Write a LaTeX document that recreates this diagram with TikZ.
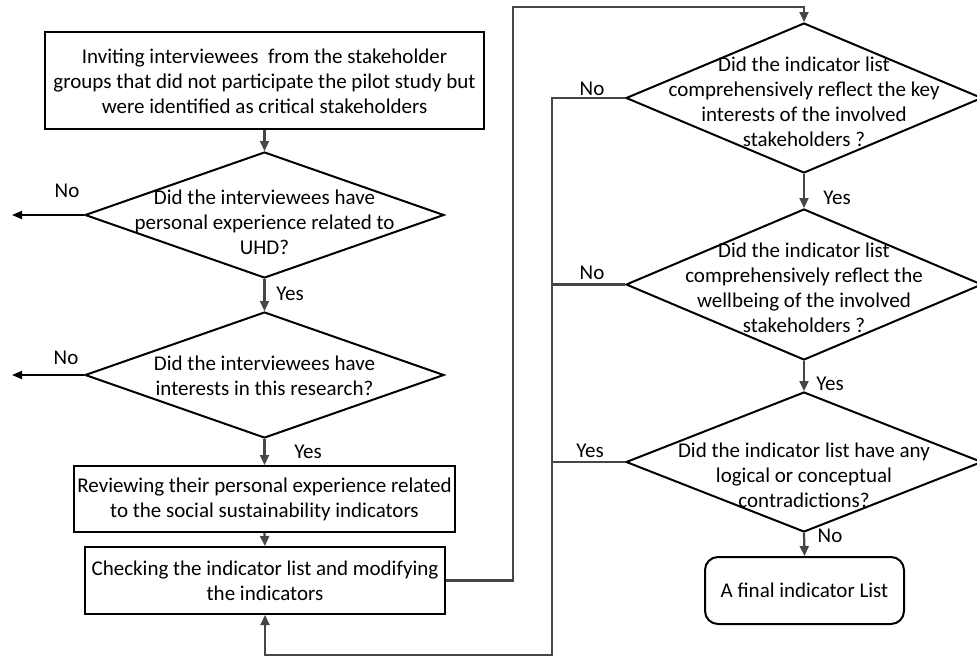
\documentclass[tikz,border=0pt]{standalone}
\usepackage{fontspec}
\setmainfont{Carlito}
\usetikzlibrary{shapes.geometric,arrows.meta}
\definecolor{linegray}{RGB}{70,70,70}
\begin{document}
\begin{tikzpicture}[x=1pt,y=-1pt,
  every node/.style={font=\fontsize{21}{25}\selectfont},
  procbox/.style={draw=black,line width=2pt,inner sep=0pt},
  endbox/.style={draw=black,line width=2pt,rounded corners=13pt,inner sep=0pt},
  decision/.style={draw=black,line width=2pt,diamond,inner sep=0pt},
  txt/.style={align=center,inner sep=0pt},
  lbl/.style={inner sep=0pt},
  flow/.style={draw=linegray,line width=2.2pt,-{Triangle[length=10pt,width=9pt]}},
  plain/.style={draw=linegray,line width=2.2pt},
  exit/.style={draw=black,line width=1.8pt,-{Triangle[length=10pt,width=8pt]}}]
\useasboundingbox (0,0) rectangle (977,656);

% left column
\node[procbox,minimum width=439pt,minimum height=97pt] (b1) at (264.5,80.5) {};
\node[txt] at (264.5,81) {Inviting interviewees\ \ from the stakeholder\\groups that did not participate the pilot study but\\were identified as critical stakeholders};

\node[decision,minimum width=359pt,minimum height=126pt] (d1) at (264.5,215) {};
\node[txt] at (264.5,222) {Did the interviewees have\\personal experience related to\\UHD?};

\node[decision,minimum width=359pt,minimum height=126pt] (d2) at (264.5,375) {};
\node[txt] at (264.5,375.5) {Did the interviewees have\\interests in this research?};

\node[procbox,minimum width=381pt,minimum height=66pt] (b3) at (264.5,499) {};
\node[txt] at (264.5,499.5) {Reviewing their personal experience related\\to the social sustainability indicators};

\node[procbox,minimum width=360pt,minimum height=67pt] (b4) at (265,580.5) {};
\node[txt] at (265,580.5) {Checking the indicator list and modifying\\the indicators};

% right column
\node[decision,minimum width=356pt,minimum height=150pt] (r1) at (804,98) {};
\node[txt] at (804,102) {Did the indicator list\\comprehensively reflect the key\\interests of the involved\\stakeholders ?};

\node[decision,minimum width=356pt,minimum height=151pt] (r2) at (804,284.5) {};
\node[txt] at (804,287.5) {Did the indicator list\\comprehensively reflect the\\wellbeing of the involved\\stakeholders ?};

\node[decision,minimum width=356pt,minimum height=140pt] (r3) at (804,462) {};
\node[txt] at (804,475) {Did the indicator list have any\\logical or conceptual\\contradictions?};

\node[endbox,minimum width=199pt,minimum height=67pt] (t) at (804.5,590.5) {A final indicator List};

% exits and routing points
\coordinate (x1) at (12,215);
\coordinate (x2) at (12,375);
\coordinate (up) at (513,7);
\coordinate (bus) at (552,655);

% connectors
\draw[flow] (b1.south) -- (d1.north);
\draw[exit] (d1.west) -- (x1);
\draw[flow] (d1.south) -- (d2.north);
\draw[exit] (d2.west) -- (x2);
\draw[flow] (d2.south) -- (b3.north);
\draw[flow] (b3.south) -- (b4.north);
\draw[flow] (b4.east) -- (b4.east -| up) -- (up) -| (r1.north);
\draw[flow] (r1.south) -- (r2.north);
\draw[flow] (r2.south) -- (r3.north);
\draw[flow] (r3.south) -- (t.north);
\draw[flow] (r1.west) -| (bus) -| (b4.south);
\draw[plain] (r2.west) -- (r2.west -| bus);
\draw[plain] (r3.west) -- (r3.west -| bus);

% branch labels
\node[lbl] at (67,191) {No};
\node[lbl] at (290,294) {Yes};
\node[lbl] at (66,358) {No};
\node[lbl] at (308,452) {Yes};
\node[lbl] at (592,89) {No};
\node[lbl] at (837,198) {Yes};
\node[lbl] at (592,273) {No};
\node[lbl] at (830,384) {Yes};
\node[lbl] at (590,451) {Yes};
\node[lbl] at (830,536) {No};
\end{tikzpicture}
\end{document}
